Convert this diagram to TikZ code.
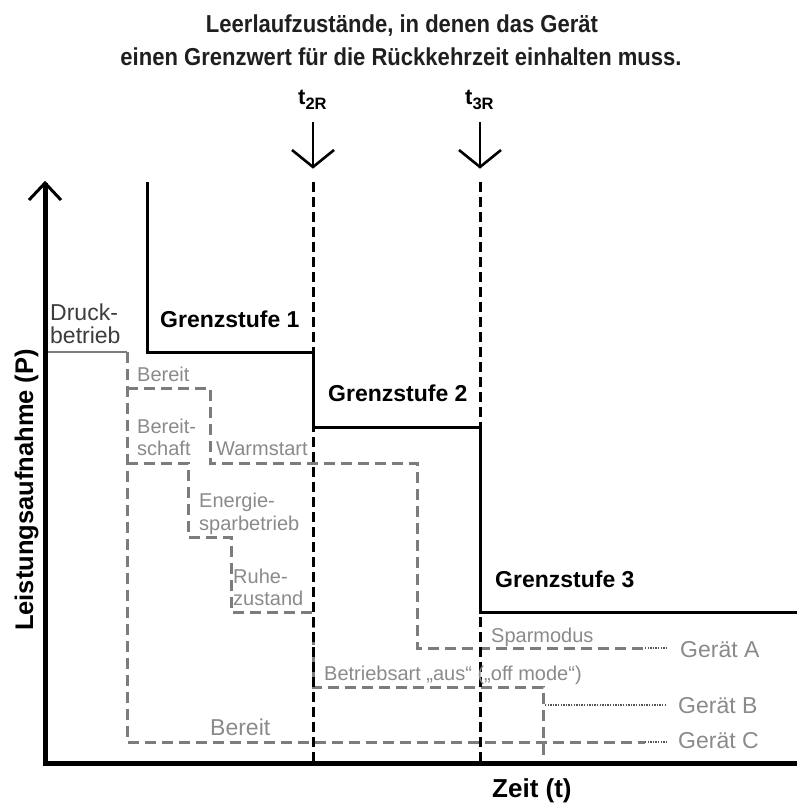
\documentclass[tikz,border=0pt]{standalone}
\usepackage{fontspec}
\setmainfont{Liberation Sans}
\newfontfamily\titlefont[FakeStretch=0.9]{Liberation Sans}
\definecolor{lgray}{HTML}{8A8A8A}
\definecolor{dgray}{HTML}{3C3C3C}
\definecolor{lingray}{HTML}{7C7C7C}
\definecolor{dotgray}{HTML}{555555}
\begin{document}
\begin{tikzpicture}[x=1pt,y=-1pt,
  titletxt/.style={inner sep=0pt, anchor=base, font=\titlefont\bfseries\fontsize{24.5}{28}\selectfont, text=black!88},
  lbl/.style={inner sep=0pt, anchor=base west, text=lgray, font=\fontsize{20}{23}\selectfont},
  biglbl/.style={inner sep=0pt, anchor=base west, text=lgray, font=\fontsize{23}{26}\selectfont},
  druck/.style={inner sep=0pt, anchor=base west, text=dgray, font=\fontsize{23}{26}\selectfont},
  grenz/.style={inner sep=0pt, anchor=base west, text=black, font=\bfseries\fontsize{23}{26}\selectfont},
  tlbl/.style={inner sep=0pt, anchor=base west, text=black, font=\bfseries\fontsize{22}{24}\selectfont},
  gdash/.style={draw=lingray, line width=3pt, dash pattern=on 11pt off 6pt},
  kdash/.style={draw=black, line width=3pt, dash pattern=on 10pt off 5pt},
  limit/.style={draw=black, line width=3pt},
  axisline/.style={draw=black, line width=5pt},
  leader/.style={draw=dotgray, line width=1.4pt, dash pattern=on 1.4pt off 1.2pt},
  tarrow/.style={draw=black, line width=2.6pt, line join=miter}
]
\useasboundingbox (0,0) rectangle (797,803);

% title
\node[titletxt] (title1) at (402,32) {Leerlaufzustände, in denen das Gerät};
\node[titletxt] (title2) at (401,65) {einen Grenzwert für die Rückkehrzeit einhalten muss.};

% gray profiles
\draw[draw=lingray, line width=2.6pt] (45,352) -- (127,352);
\draw[gdash] (127,352) -- (127,742) -- (645,742);
\draw[gdash] (127,388) -- (210,388) -- (210,463) -- (417,463) -- (417,648) -- (645,648);
\draw[gdash] (127,463) -- (188,463) -- (188,537) -- (231,537) -- (231,612) -- (313,612) -- (313,687) -- (543,687) -- (543,762);
\draw[leader] (645,648) -- (667,648);
\draw[leader] (545,705) -- (667,705);
\draw[leader] (645,742) -- (667,742);

% time markers
\coordinate (t2a) at (313,122);
\coordinate (t2b) at (313,167);
\coordinate (t3a) at (480,122);
\coordinate (t3b) at (480,167);
\draw[tarrow] (t2a) -- (t2b);
\draw[tarrow] (292,150) -- (t2b) -- (334,150);
\draw[tarrow] (t3a) -- (t3b);
\draw[tarrow] (459,150) -- (t3b) -- (501,150);
\draw[kdash] (313,182) -- (313,763);
\draw[kdash] (480,182) -- (480,763);
\node[tlbl] (t2R) at (298,104) {t\raisebox{-5pt}{\fontsize{16.5}{16}\selectfont 2R}};
\node[tlbl] (t3R) at (465,104) {t\raisebox{-5pt}{\fontsize{16.5}{16}\selectfont 3R}};

% limits
\draw[limit] (147,182) -- (147,352) -- (313,352) -- (313,427) -- (480,427) -- (480,612) -- (797,612);

% axes
\coordinate (O) at (45,763);
\coordinate (ytop) at (45,183);
\coordinate (xend) at (797,763);
\draw[axisline] (ytop) -- (O) -- (xend);
\draw[draw=black, line width=3pt, line join=miter] (29,200) -- (ytop) -- (61,200);

% labels
\node[druck] (druck1) at (50,320) {Druck-};
\node[druck] (druck2) at (50,343) {betrieb};
\node[grenz] (gs1) at (160,327) {Grenzstufe 1};
\node[grenz] (gs2) at (328,401) {Grenzstufe 2};
\node[grenz] (gs3) at (495,587) {Grenzstufe 3};
\node[lbl] (bereit1) at (137,381) {Bereit};
\node[lbl] (bsch1) at (137,433) {Bereit-};
\node[lbl] (bsch2) at (137,455) {schaft};
\node[lbl] (warm) at (216,455) {Warmstart};
\node[lbl] (energ1) at (199,507) {Energie-};
\node[lbl] (energ2) at (199,530) {sparbetrieb};
\node[lbl] (ruhe1) at (233,583) {Ruhe-};
\node[lbl] (ruhe2) at (233,605) {zustand};
\node[lbl] (spar) at (491,642) {Sparmodus};
\node[lbl] (aus) at (324,680) {Betriebsart „aus“ („off mode“)};
\node[biglbl] (bereit2) at (210,735) {Bereit};
\node[biglbl] (gA) at (680,657) {Gerät A};
\node[biglbl] (gB) at (678,713) {Gerät B};
\node[biglbl] (gC) at (678,748) {Gerät C};
\node[inner sep=0pt, anchor=base, rotate=90, font=\bfseries\fontsize{25.5}{28}\selectfont] (ylab) at (33,490) {Leistungsaufnahme (P)};
\node[inner sep=0pt, anchor=base west, font=\bfseries\fontsize{26}{28}\selectfont] (xlab) at (492,797) {Zeit (t)};
\end{tikzpicture}
\end{document}
